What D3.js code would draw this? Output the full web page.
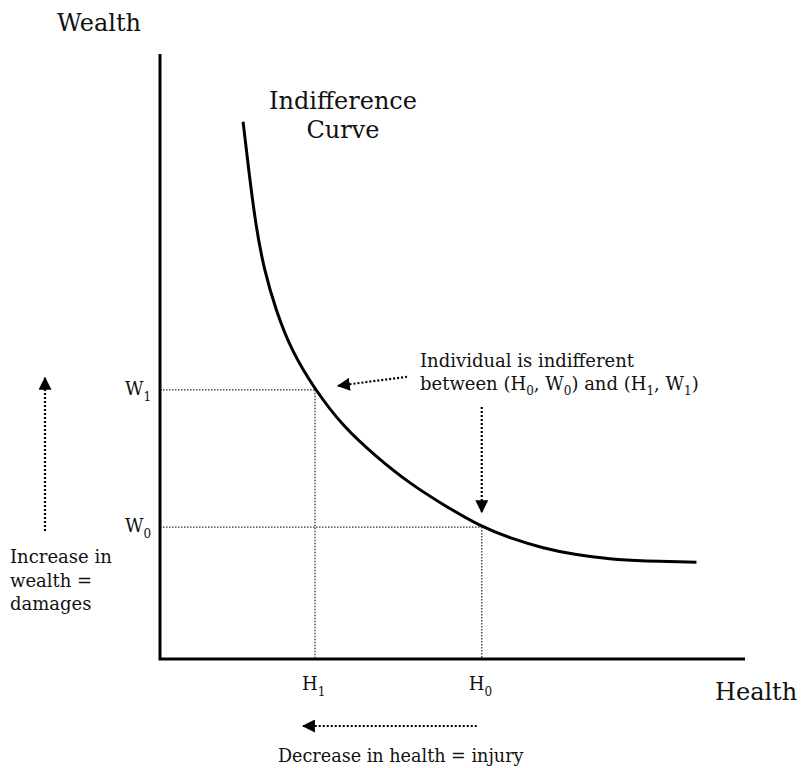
<!DOCTYPE html>
<html>
<head>
<meta charset="utf-8">
<script src="https://cdn.jsdelivr.net/npm/d3@7"></script>
<style>
  body { margin: 0; background: #fff; }
  svg text { font-family: "DejaVu Serif", serif; fill: #111; }
</style>
</head>
<body>
<div id="chart"></div>
<script>
// indifference curve (health, wealth on a 0-100 scale)
var health = [14.2, 15.3, 16.4, 17.8, 19.8, 22.4, 26.5, 31.3, 37.0, 42.7, 48.4, 55.0, 59.8, 65.5, 71.2, 76.9, 82.6, 91.7];
var wealth = [88.8, 79.7, 71.5, 64.3, 57.7, 51.1, 44.5, 38.4, 33.4, 29.0, 25.5, 21.8, 20.0, 18.3, 17.2, 16.5, 16.2, 16.0];

// the two bundles: (H0, W0) and (H1, W1)
var healthTicks = [55.0, 26.5];
var wealthTicks = [21.8, 44.5];
var tickSubs = ["0", "1"];

var width = 801, height = 768;

var svg = d3.select("#chart")
    .append("svg")
    .attr("width", width)
    .attr("height", height);

var x = d3.scaleLinear().domain([0, 100]).range([160, 745]);
var y = d3.scaleLinear().domain([0, 100]).range([659, 54]);

// arrow head
svg.append("defs").append("marker")
    .attr("id", "head")
    .attr("viewBox", "0 0 12 12")
    .attr("refX", 11).attr("refY", 6)
    .attr("markerWidth", 13).attr("markerHeight", 13)
    .attr("markerUnits", "userSpaceOnUse")
    .attr("orient", "auto")
  .append("path")
    .attr("d", "M0,0 L12,6 L0,12 Z")
    .attr("fill", "#000");

// dotted guide lines
healthTicks.forEach(function (h, i) {
    var w = wealthTicks[i];
    svg.append("line")
        .attr("x1", x(0)).attr("x2", x(h))
        .attr("y1", y(w)).attr("y2", y(w))
        .attr("stroke", "#333").attr("stroke-width", 1.3)
        .attr("stroke-dasharray", "1.5,1.5");
    svg.append("line")
        .attr("x1", x(h)).attr("x2", x(h))
        .attr("y1", y(w)).attr("y2", y(0))
        .attr("stroke", "#333").attr("stroke-width", 1.3)
        .attr("stroke-dasharray", "1.5,1.5");
});

// axes
svg.append("path")
    .attr("d", "M" + x(0) + "," + y(100) + " L" + x(0) + "," + y(0) + " L" + x(100) + "," + y(0))
    .attr("fill", "none")
    .attr("stroke", "#000")
    .attr("stroke-width", 3);

// the curve
var pts = health.map(function (h, i) { return [h, wealth[i]]; });
var line = d3.line()
    .x(function (d) { return x(d[0]); })
    .y(function (d) { return y(d[1]); })
    .curve(d3.curveBasis);

svg.append("path")
    .datum(pts)
    .attr("d", line)
    .attr("fill", "none")
    .attr("stroke", "#000")
    .attr("stroke-width", 3);

// tick labels with subscripts
function subLabel(letter, sub, px, py) {
    var t = svg.append("text")
        .attr("x", px).attr("y", py)
        .attr("font-size", 18);
    t.append("tspan").text(letter);
    t.append("tspan").attr("font-size", 12).attr("dy", 6).text(sub);
    return t;
}

healthTicks.forEach(function (h, i) {
    subLabel("H", tickSubs[i], x(h) - 13, 690);
});
wealthTicks.forEach(function (w, i) {
    subLabel("W", tickSubs[i], x(0) - 35, y(w) + 5);
});

// axis titles
svg.append("text").attr("x", 57).attr("y", 31).attr("font-size", 24).text("Wealth");
svg.append("text").attr("x", 715).attr("y", 700).attr("font-size", 24).text("Health");

// curve label
var cl = svg.append("text").attr("font-size", 24).attr("text-anchor", "middle");
cl.append("tspan").attr("x", 343).attr("y", 109).text("Indifference");
cl.append("tspan").attr("x", 343).attr("y", 138).text("Curve");

// annotation
svg.append("text").attr("x", 420).attr("y", 367).attr("font-size", 18).text("Individual is indifferent");
var ann = svg.append("text").attr("x", 420).attr("y", 390).attr("font-size", 18);
ann.append("tspan").text("between (H");
ann.append("tspan").attr("font-size", 12).attr("dy", 5).text("0");
ann.append("tspan").attr("dy", -5).text(", W");
ann.append("tspan").attr("font-size", 12).attr("dy", 5).text("0");
ann.append("tspan").attr("dy", -5).text(") and (H");
ann.append("tspan").attr("font-size", 12).attr("dy", 5).text("1");
ann.append("tspan").attr("dy", -5).text(", W");
ann.append("tspan").attr("font-size", 12).attr("dy", 5).text("1");
ann.append("tspan").attr("dy", -5).text(")");

// dotted arrows
function arrow(x1, y1, x2, y2) {
    svg.append("line")
        .attr("x1", x1).attr("y1", y1)
        .attr("x2", x2).attr("y2", y2)
        .attr("stroke", "#000").attr("stroke-width", 2.2)
        .attr("stroke-dasharray", "2,2")
        .attr("marker-end", "url(#head)");
}
arrow(x(healthTicks[1]) + 92, y(wealthTicks[1]) - 13, x(healthTicks[1]) + 23, y(wealthTicks[1]) - 4);
arrow(x(healthTicks[0]), y(wealthTicks[0]) - 120, x(healthTicks[0]), y(wealthTicks[0]) - 15);
arrow(45, y(wealthTicks[0]) + 4, 45, y(wealthTicks[1]) - 12);
arrow(x(healthTicks[0]) - 5, 726, x(healthTicks[1]) - 12, 726);

// side notes
var lt = svg.append("text").attr("font-size", 18);
["Increase in", "wealth =", "damages"].forEach(function (s, i) {
    lt.append("tspan").attr("x", 10).attr("y", 563 + i * 23.5).text(s);
});
svg.append("text").attr("x", 278).attr("y", 762).attr("font-size", 17.6).text("Decrease in health = injury");
</script>
</body>
</html>
